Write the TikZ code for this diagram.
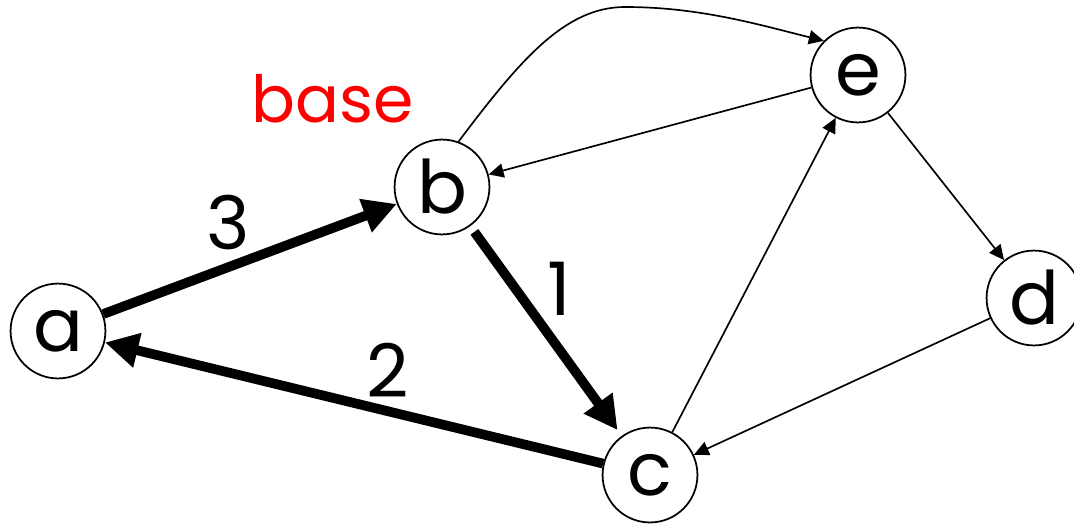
\documentclass[tikz,border=0pt]{standalone}
\usepackage{fontspec}
\setmainfont{Poppins}
\usetikzlibrary{arrows.meta}
\definecolor{BaseRed}{HTML}{FF0000}
\definecolor{InkDark}{HTML}{000000}
\tikzset{
  vtx/.style={circle, draw=InkDark, line width=1pt, fill=white,
             minimum size=54pt, inner sep=0pt, font=\fontsize{42}{50}\selectfont},
  thinedge/.style={line width=0.95pt, draw=InkDark,
             -{Triangle[length=8.5pt, width=8pt]}},
  thickedge/.style={line width=5.5pt, draw=InkDark,
             -{Triangle[length=19pt, width=19pt]}},
  wlabel/.style={font=\fontsize{42}{50}\selectfont, inner sep=0pt, anchor=base},
}
\begin{document}
\begin{tikzpicture}[x=0.02cm, y=-0.02cm]
\useasboundingbox (0,0) rectangle (1074,524);
\node[vtx] (a) at (58,331) {a};
\node[vtx] (b) at (442,187) {b};
\node[vtx] (c) at (650,475) {c};
\node[vtx] (e) at (858,75) {e};
\node[vtx] (d) at (1034,298) {d};
\draw[thickedge] (a) -- (b);
\draw[thickedge, shorten <=4pt, shorten >=4pt] (b) -- (c);
\draw[thickedge] (c) -- (a);
\draw[thinedge] (b.70) .. controls (520,60) and (565,7) .. (625,7)
                      .. controls (700,7) and (760,25) .. (e.north west);
\draw[thinedge] (e) -- (b);
\draw[thinedge] (c) -- (e);
\draw[thinedge] (e) -- (d);
\draw[thinedge] (d) -- (c);
\node[wlabel] (w3) at (228,249) {3};
\node[wlabel] (w1) at (559,315) {1};
\node[wlabel] (w2) at (388,397) {2};
\node[wlabel, text=BaseRed, font=\fontsize{37}{44}\selectfont] (base) at (333,122) {base};
\end{tikzpicture}
\end{document}
